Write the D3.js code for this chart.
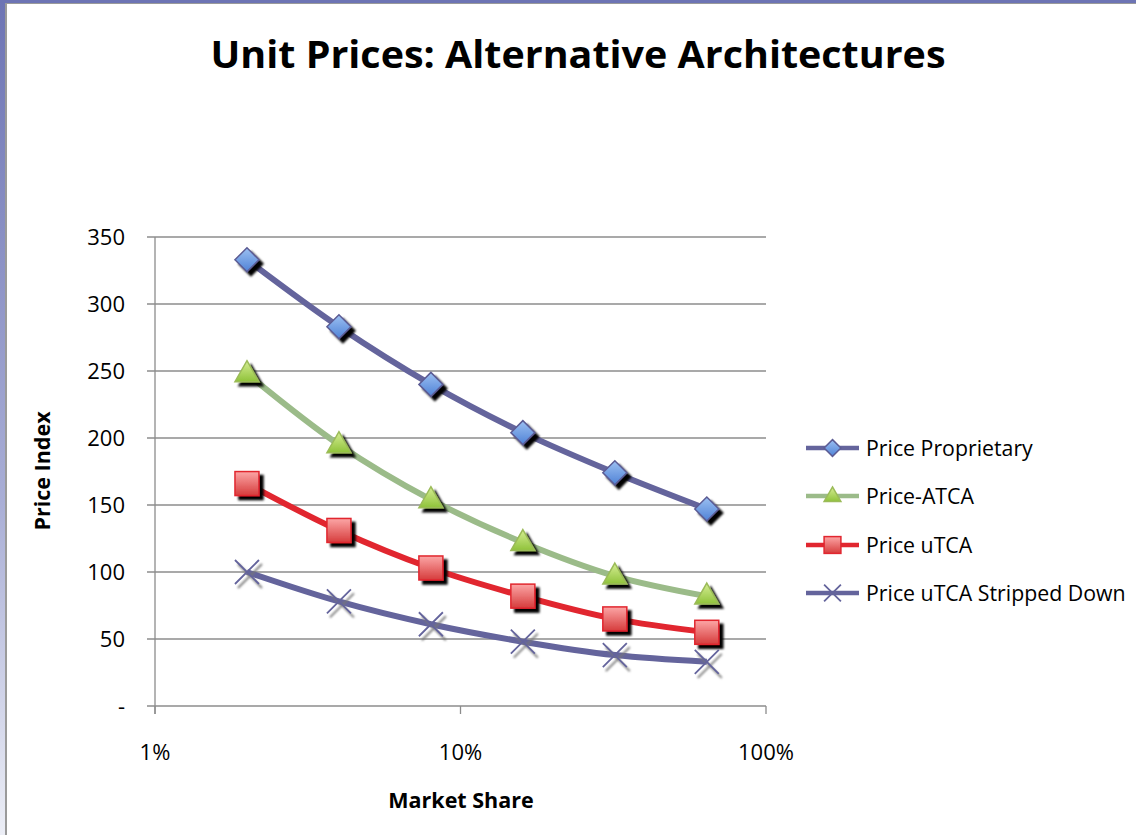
<!DOCTYPE html>
<html><head><meta charset="utf-8">
<script src="https://cdn.jsdelivr.net/npm/d3@7"></script>
<style>body{margin:0;background:#fff}svg{display:block}text{font-family:"Open Sans",Lato,sans-serif}</style>
</head><body>
<script>
const marketShare = [0.02, 0.04, 0.08, 0.16, 0.32, 0.64];
const priceProprietary = [333, 283, 240, 204, 174, 147];
const priceATCA = [248, 195, 154, 122, 97, 82];
const priceUTCA = [166, 131, 103, 82, 65, 55];
const priceUTCAStripped = [100, 78, 61, 48, 38, 33];
const seriesNames = ["Price Proprietary", "Price-ATCA", "Price uTCA", "Price uTCA Stripped Down"];
const yTicks = [0, 50, 100, 150, 200, 250, 300, 350];
const xTicks = [0.01, 0.1, 1];
const xTickLabels = ["1%", "10%", "100%"];

const W = 1136, H = 835;
const svg = d3.select("body").append("svg").attr("width", W).attr("height", H);
const defs = svg.append("defs");

// frame gradient
const fg = defs.append("linearGradient").attr("id","frameL").attr("x1",0).attr("y1",0).attr("x2",0).attr("y2",1);
fg.append("stop").attr("offset","0%").attr("stop-color","#6d74b4");
fg.append("stop").attr("offset","60%").attr("stop-color","#a9aed6");
fg.append("stop").attr("offset","100%").attr("stop-color","#eceef6");
svg.append("rect").attr("x",0).attr("y",0).attr("width",5).attr("height",H).attr("fill","url(#frameL)");
svg.append("rect").attr("x",0).attr("y",0).attr("width",W).attr("height",3).attr("fill","#6d74b4");
svg.append("rect").attr("x",5).attr("y",3).attr("width",2).attr("height",H).attr("fill","#9a9a9a");
svg.append("rect").attr("x",5).attr("y",3).attr("width",W).attr("height",1).attr("fill","#9a9a9a");

// shadow filter
const f = defs.append("filter").attr("id","shadow").attr("x","-50%").attr("y","-50%").attr("width","200%").attr("height","200%");
f.append("feDropShadow").attr("dx",4).attr("dy",4).attr("stdDeviation",1.2).attr("flood-color","#000").attr("flood-opacity",1);
const f2 = defs.append("filter").attr("id","shadowX").attr("x","-50%").attr("y","-50%").attr("width","200%").attr("height","200%");
f2.append("feDropShadow").attr("dx",3).attr("dy",4).attr("stdDeviation",1).attr("flood-color","#777").attr("flood-opacity",1);

function grad(id, c1, c2){
  const g = defs.append("linearGradient").attr("id",id).attr("x1",0).attr("y1",0).attr("x2",0).attr("y2",1);
  g.append("stop").attr("offset","0%").attr("stop-color",c1);
  g.append("stop").attr("offset","100%").attr("stop-color",c2);
}
grad("gBlue","#9cc0f2","#4f82d6");
grad("gGreen","#d6ee94","#8fc23a");
grad("gRed","#fca6a6","#d63c3c");

const x = d3.scaleLog().domain([0.01, 1]).range([155, 766]);
const y = d3.scaleLinear().domain([0, 350]).range([706, 237]);

// title
svg.append("text").attr("x",578).attr("y",68).attr("text-anchor","middle")
  .attr("font-size",37).attr("font-weight","bold").attr("fill","#000")
  .attr("textLength",735).attr("lengthAdjust","spacingAndGlyphs")
  .text("Unit Prices: Alternative Architectures");

// gridlines
svg.append("g").selectAll("line").data(yTicks).join("line")
  .attr("x1",147).attr("x2",766).attr("y1",d=>y(d)).attr("y2",d=>y(d))
  .attr("stroke","#8c8c8c").attr("stroke-width",1.3);

// y axis line
svg.append("line").attr("x1",155).attr("x2",155).attr("y1",237).attr("y2",714).attr("stroke","#8c8c8c").attr("stroke-width",1.3);
// x ticks
svg.append("g").selectAll("line").data(xTicks).join("line")
  .attr("x1",d=>x(d)).attr("x2",d=>x(d)).attr("y1",706).attr("y2",714)
  .attr("stroke","#8c8c8c").attr("stroke-width",1.3);

// y tick labels
svg.append("g").selectAll("text").data(yTicks).join("text")
  .attr("x",125).attr("y",d=>y(d)+8).attr("text-anchor","end").attr("font-size",22).attr("fill","#000")
  .text(d=>d===0?"-":d);
// x tick labels
svg.append("g").selectAll("text").data(xTicks).join("text")
  .attr("x",d=>x(d)).attr("y",760).attr("text-anchor","middle").attr("font-size",22).attr("fill","#000")
  .text((d,i)=>xTickLabels[i]);

// axis titles
svg.append("text").attr("x",461).attr("y",808).attr("text-anchor","middle").attr("font-size",21.5).attr("font-weight","bold").text("Market Share");
svg.append("text").attr("transform","translate(50,471) rotate(-90)").attr("text-anchor","middle").attr("font-size",21.5).attr("font-weight","bold").text("Price Index");

const series = [
  {name: seriesNames[0], vals: priceProprietary, color:"#64649c", marker:"diamond"},
  {name: seriesNames[1], vals: priceATCA, color:"#9bbb89", marker:"triangle"},
  {name: seriesNames[2], vals: priceUTCA, color:"#e1262f", marker:"square"},
  {name: seriesNames[3], vals: priceUTCAStripped, color:"#64649c", marker:"x"}
];

const line = d3.line().x(d=>x(d[0])).y(d=>y(d[1])).curve(d3.curveCatmullRom.alpha(0.5));

function drawMarker(g, type, cx, cy, big){
  const s = big ? 1 : 0.7;
  if(type==="diamond"){
    g.append("path").attr("d",`M${cx},${cy-12*s}L${cx+12*s},${cy}L${cx},${cy+12*s}L${cx-12*s},${cy}Z`)
      .attr("fill","url(#gBlue)").attr("stroke","#5c5c94").attr("stroke-width",1.5).attr("filter",big?"url(#shadow)":null);
  } else if(type==="triangle"){
    g.append("path").attr("d",`M${cx},${cy-13*s}L${cx+12*s},${cy+8*s}L${cx-12*s},${cy+8*s}Z`)
      .attr("fill","url(#gGreen)").attr("stroke","#9bbb59").attr("stroke-width",1.5).attr("filter",big?"url(#shadow)":null);
  } else if(type==="square"){
    g.append("rect").attr("x",cx-12*s).attr("y",cy-12*s).attr("width",24*s).attr("height",24*s)
      .attr("fill","url(#gRed)").attr("stroke","#e1262f").attr("stroke-width",1.5).attr("filter",big?"url(#shadow)":null);
  } else {
    const r = 12*s;
    g.append("path").attr("d",`M${cx-r},${cy-r}L${cx+r},${cy+r}M${cx-r},${cy+r}L${cx+r},${cy-r}`)
      .attr("stroke","#64649c").attr("stroke-width",1.8).attr("fill","none").attr("filter",big?"url(#shadowX)":null);
  }
}

series.forEach(s=>{
  const pts = marketShare.map((m,i)=>[m, s.vals[i]]);
  svg.append("path").datum(pts).attr("d",line).attr("fill","none").attr("stroke",s.color).attr("stroke-width",6).attr("stroke-linejoin","round");
});
series.forEach(s=>{
  const g = svg.append("g");
  marketShare.forEach((m,i)=>drawMarker(g, s.marker, x(m), y(s.vals[i]), true));
});

// legend
const legendY = [448, 496, 545, 593];
series.forEach((s,i)=>{
  const ly = legendY[i];
  const g = svg.append("g");
  g.append("line").attr("x1",806).attr("x2",859).attr("y1",ly).attr("y2",ly).attr("stroke",s.color).attr("stroke-width",4.5);
  drawMarker(g, s.marker, 832.5, ly, false);
  g.append("text").attr("x",866).attr("y",ly+7.5).attr("font-size",21.3).attr("fill","#000").text(s.name);
});
</script>
</body></html>
